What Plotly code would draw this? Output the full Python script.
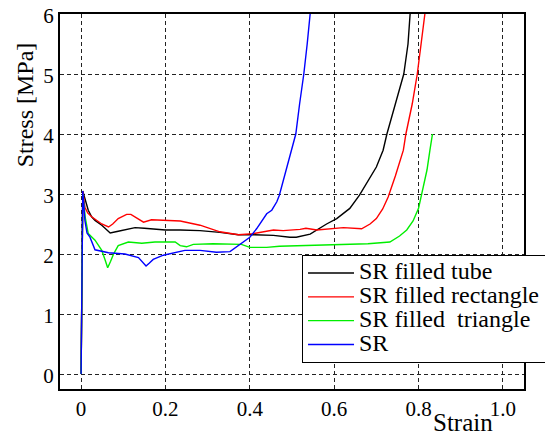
import plotly.graph_objects as go

# ---- data ----
tube_x = [0, 0.004, 0.008, 0.017, 0.025, 0.033, 0.049, 0.06, 0.069, 0.088, 0.11, 0.128, 0.15, 0.167,
          0.2, 0.235, 0.282, 0.329, 0.373, 0.408, 0.456, 0.495, 0.51, 0.543, 0.559, 0.582, 0.606,
          0.637, 0.66, 0.677, 0.70, 0.716, 0.725, 0.745, 0.765, 0.775, 0.78]
tube_y = [0, 3.05, 2.95, 2.73, 2.62, 2.56, 2.48, 2.40, 2.35, 2.38, 2.41, 2.44, 2.43, 2.42,
          2.40, 2.40, 2.39, 2.36, 2.32, 2.32, 2.31, 2.28, 2.28, 2.33, 2.40, 2.50, 2.59,
          2.76, 2.98, 3.17, 3.45, 3.73, 4.0, 4.5, 5.0, 5.5, 6.0]

rect_x = [0, 0.004, 0.009, 0.016, 0.025, 0.049, 0.065, 0.075, 0.088, 0.108, 0.118, 0.128, 0.148,
          0.167, 0.2, 0.235, 0.282, 0.329, 0.373, 0.408, 0.456, 0.479, 0.519, 0.533, 0.559, 0.622,
          0.665, 0.685, 0.70, 0.715, 0.728, 0.745, 0.764, 0.77, 0.785, 0.797, 0.806, 0.815]
rect_y = [0, 3.05, 2.78, 2.68, 2.62, 2.50, 2.45, 2.50, 2.59, 2.66, 2.66, 2.62, 2.53,
          2.57, 2.56, 2.55, 2.48, 2.37, 2.32, 2.34, 2.40, 2.39, 2.41, 2.43, 2.40, 2.44,
          2.42, 2.50, 2.59, 2.75, 2.95, 3.30, 3.73, 4.0, 4.5, 5.0, 5.5, 6.0]

tri_x = [0, 0.004, 0.01, 0.017, 0.033, 0.049, 0.057, 0.063, 0.07, 0.077, 0.088, 0.112, 0.144,
         0.175, 0.223, 0.235, 0.25, 0.266, 0.313, 0.38, 0.40, 0.44, 0.47, 0.543, 0.598, 0.68,
         0.732, 0.755, 0.772, 0.787, 0.80, 0.81, 0.82, 0.827, 0.833]
tri_y = [0, 3.0, 2.6, 2.34, 2.23, 2.06, 1.90, 1.77, 1.88, 2.0, 2.14, 2.20, 2.18,
         2.20, 2.20, 2.14, 2.12, 2.16, 2.17, 2.16, 2.11, 2.11, 2.13, 2.14, 2.16, 2.17,
         2.20, 2.30, 2.40, 2.55, 2.76, 3.10, 3.40, 3.73, 4.0]

sr_x = [0, 0.004, 0.009, 0.014, 0.021, 0.033, 0.065, 0.104, 0.136, 0.148, 0.154, 0.162, 0.171,
        0.195, 0.223, 0.246, 0.282, 0.321, 0.353, 0.369, 0.393, 0.40, 0.416, 0.44, 0.452, 0.464,
        0.47, 0.49, 0.509, 0.518, 0.528, 0.536, 0.543]
sr_y = [0, 3.05, 2.56, 2.35, 2.28, 2.07, 2.02, 2.00, 1.94, 1.85, 1.80, 1.85, 1.91,
        1.98, 2.03, 2.06, 2.06, 2.03, 2.04, 2.12, 2.24, 2.28, 2.42, 2.67, 2.73, 2.87,
        2.98, 3.5, 4.0, 4.5, 5.0, 5.5, 6.0]

series_names = ["SR filled tube", "SR filled rectangle", "SR filled  triangle", "SR"]
series_colors = ["#000000", "#ff0000", "#00ee00", "#0000ff"]

x_tickvals = [0, 0.2, 0.4, 0.6, 0.8, 1.0]
x_ticktext = ["0", "0.2", "0.4", "0.6", "0.8", "1.0"]
y_tickvals = [0, 1, 2, 3, 4, 5, 6]
y_ticktext = ["0", "1", "2", "3", "4", "5", "6"]

FONT = "Liberation Serif, DejaVu Serif, serif"
PAD = "\u00a0" * 3  # lets the legend box run off the right edge, as in the reference

fig = go.Figure()
for i, (xs, ys, name, col) in enumerate(zip([tube_x, rect_x, tri_x, sr_x], [tube_y, rect_y, tri_y, sr_y],
                                            series_names, series_colors)):
    label = '<span style="font-size:24px">' + name + (PAD if i == 1 else "") + "</span>"
    fig.add_trace(go.Scatter(x=xs, y=ys, mode="lines", name=label,
                             line=dict(color=col, width=1.4)))

axis_common = dict(showline=True, linecolor="black", linewidth=2, mirror=True,
                   showgrid=True, gridcolor="#222", gridwidth=1, griddash="4px,3px",
                   zeroline=False, ticks="", ticklabeloverflow="allow",
                   tickfont=dict(family=FONT, size=21, color="black"))

fig.update_xaxes(range=[-0.05, 1.05], tickvals=x_tickvals, ticktext=x_ticktext, **axis_common)
fig.update_yaxes(range=[-0.25, 6], tickvals=y_tickvals, ticktext=y_ticktext,
                 ticklabelshift=2, **axis_common)

# page body has an 8px margin, so the figure is placed 8px in from the top-left corner
fig.update_layout(
    width=545, height=429,
    margin=dict(l=52, r=29, t=6, b=48, autoexpand=False),
    plot_bgcolor="white", paper_bgcolor="white",
    font=dict(family=FONT, color="black"),
    legend=dict(x=0.5216, y=0.357, xanchor="left", yanchor="top",
                bgcolor="white", bordercolor="black", borderwidth=1,
                font=dict(family=FONT, size=16, color="black"),
                itemwidth=46),
    annotations=[
        dict(text="Strain", x=0.869, y=-0.088, xref="paper", yref="paper",
             showarrow=False, xanchor="center", yanchor="middle",
             font=dict(family=FONT, size=25, color="black")),
        dict(text="Stress [MPa]", x=-0.075, y=0.757, xref="paper", yref="paper",
             showarrow=False, xanchor="center", yanchor="middle", textangle=-90,
             font=dict(family=FONT, size=24, color="black")),
    ],
)

fig.write_html("out.html")
